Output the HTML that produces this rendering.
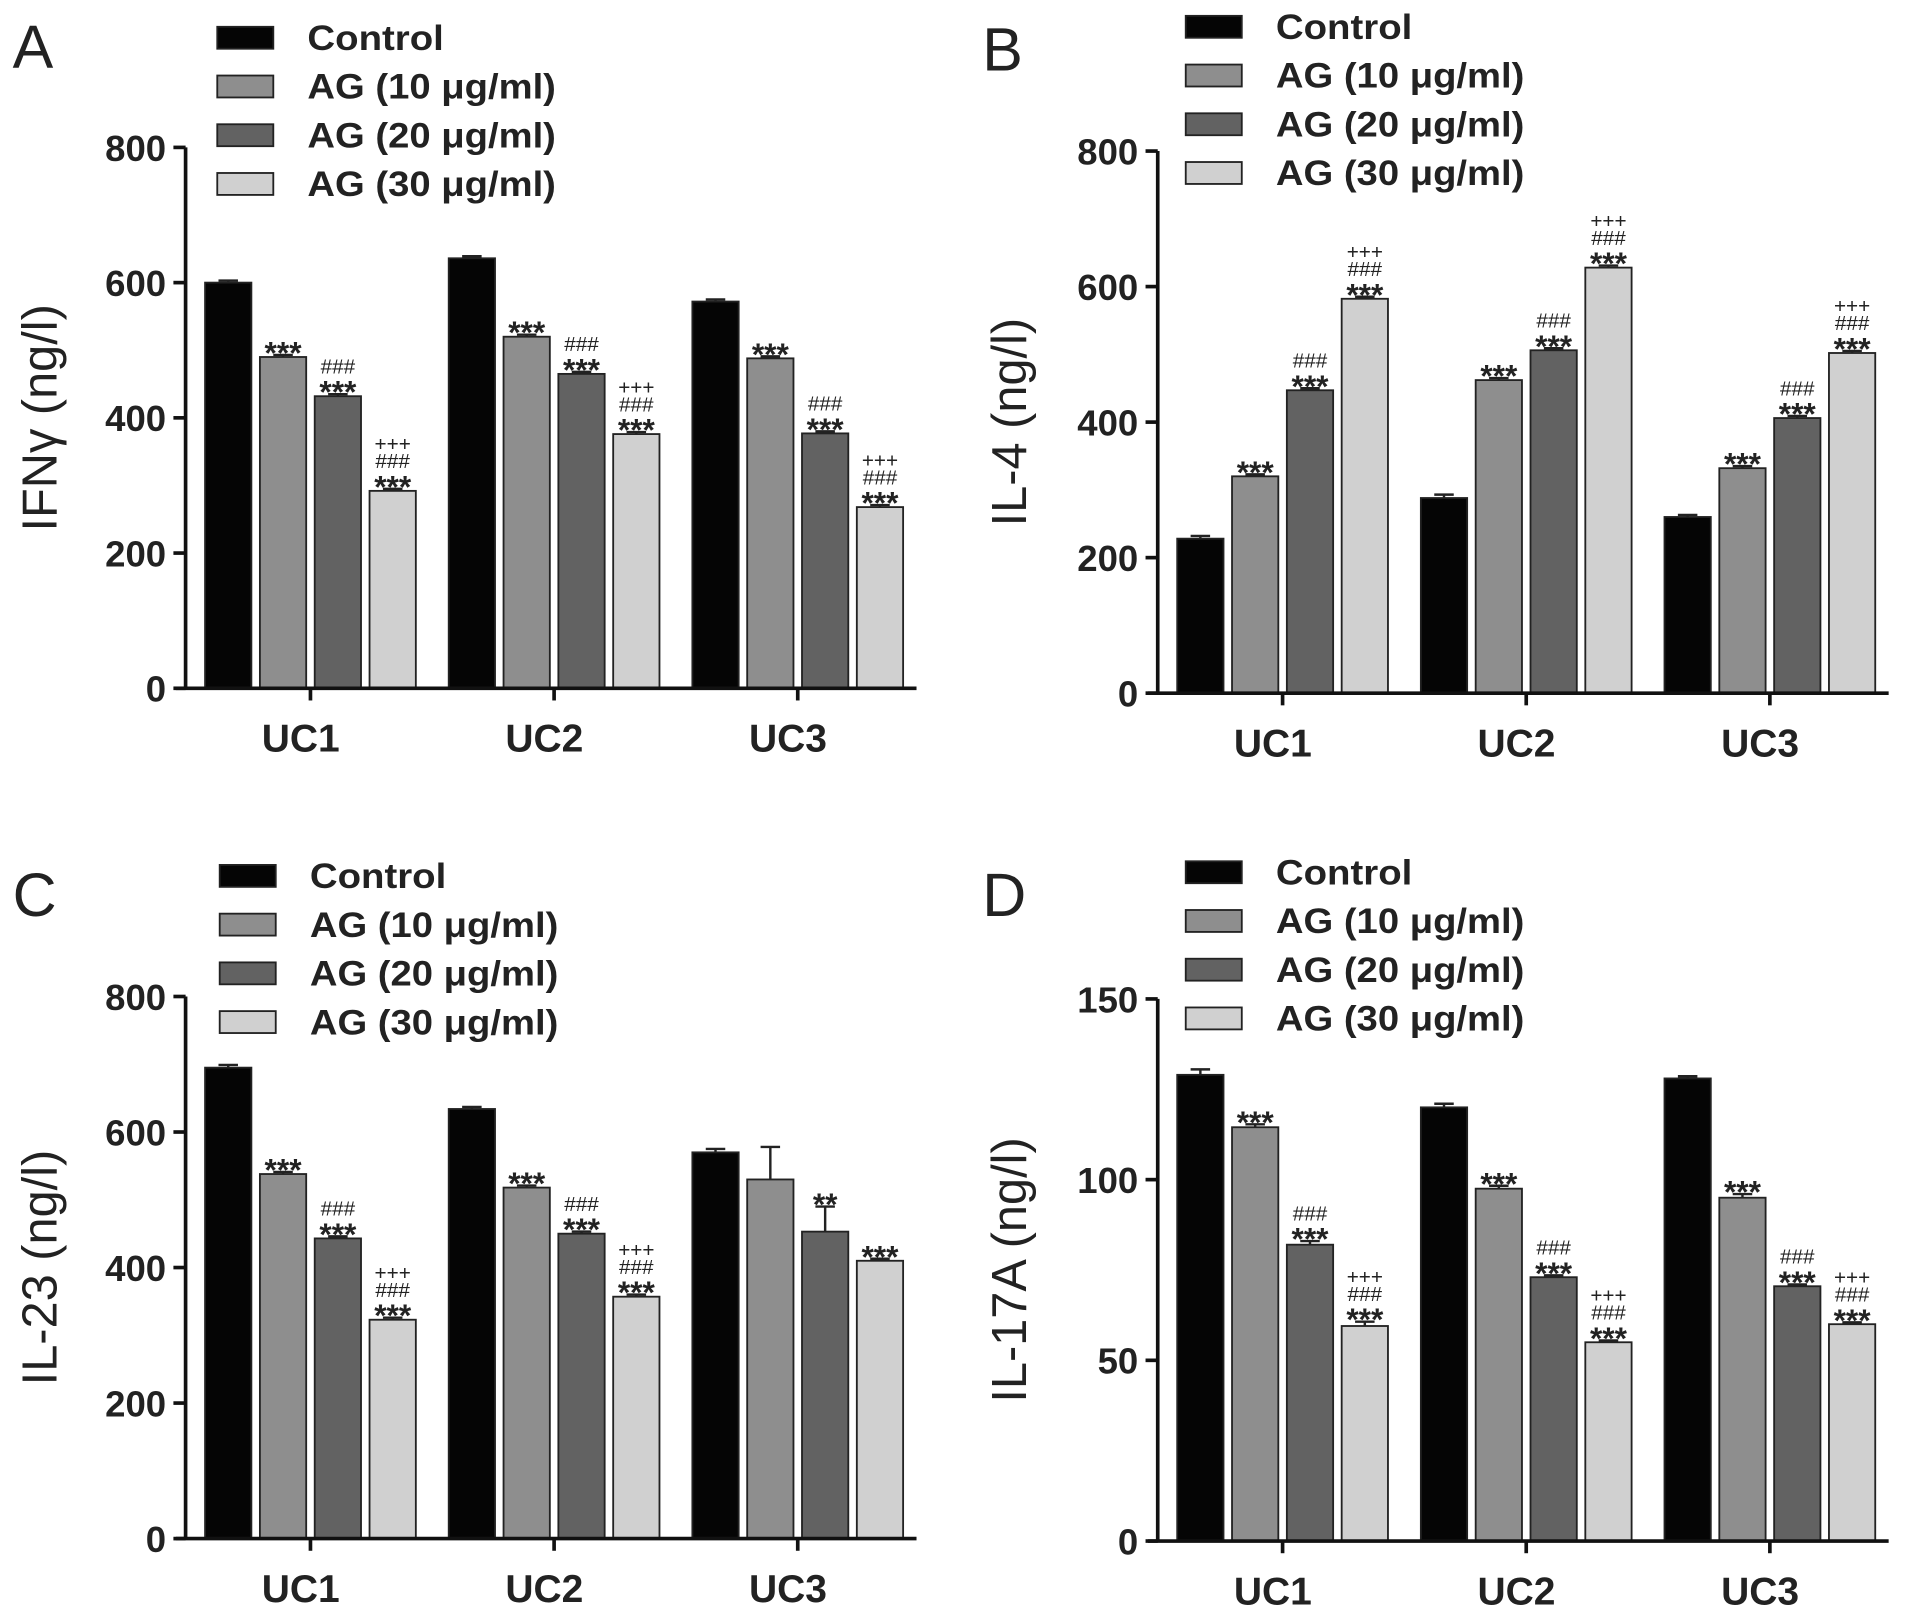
<!DOCTYPE html>
<html><head><meta charset="utf-8"><style>
html,body{margin:0;padding:0;background:#fff;}
svg{display:block;}
text{font-family:"Liberation Sans",Arial,sans-serif;}
</style></head>
<body>
<svg id="fig" width="1911" height="1619" viewBox="0 0 1568 1329" xmlns="http://www.w3.org/2000/svg"></svg>
<script>
const categories = ["UC1","UC2","UC3"];
const seriesNames = ["Control","AG (10 μg/ml)","AG (20 μg/ml)","AG (30 μg/ml)"];
const seriesColors = ["#050505","#8e8e8e","#626262","#d0d0d0"];
// Panel A IFNγ
const aValues = [[600,636,572],[490,520,488],[432,465,377],[292,376,268]];
const aErrors = [[3,3,3],[3,3,3],[3,3,3],[3,3,3]];
const aTicks = [0,200,400,600,800];
const aNotes = [["","",""],["***","***","***"],["###|***","###|***","###|***"],["+++|###|***","+++|###|***","+++|###|***"]];
// Panel B IL-4
const bValues = [[228,288,260],[320,462,332],[447,506,406],[582,628,502]];
const bErrors = [[4,5,3],[3,3,3],[3,3,3],[3,3,3]];
const bTicks = [0,200,400,600,800];
const bNotes = [["","",""],["***","***","***"],["###|***","###|***","###|***"],["+++|###|***","+++|###|***","+++|###|***"]];
// Panel C IL-23
const cValues = [[695,634,570],[538,518,530],[443,450,453],[323,357,410]];
const cErrors = [[4,3,5],[3,3,48],[3,3,37],[3,3,3]];
const cTicks = [0,200,400,600,800];
const cNotes = [["","",""],["***","***",""],["###|***","###|***","**"],["+++|###|***","+++|###|***","***"]];
// Panel D IL-17A
const dValues = [[129,120,128],[114.5,97.5,95],[82,73,70.5],[59.5,55,60]];
const dErrors = [[1.5,1,0.6],[0.8,0.8,1],[1,0.5,0.5],[1.2,0.5,0.5]];
const dTicks = [0,50,100,150];
const dNotes = [["","",""],["***","***","***"],["###|***","###|***","###|***"],["+++|###|***","+++|###|***","+++|###|***"]];

const NS="http://www.w3.org/2000/svg";
const svg=document.getElementById('fig');
function mk(tag,attrs,parent){const e=document.createElementNS(NS,tag);for(const k in attrs)e.setAttribute(k,attrs[k]);(parent||svg).appendChild(e);return e;}

function panel(cfg){
  const g=mk('g',{});
  
  
  const ymax=cfg.ticks[cfg.ticks.length-1];
  const y=v=>cfg.y0-(v/ymax)*(cfg.y0-cfg.ytop);
  const bw=38, step=45, gstep=200;
  const xBar=(ci,si)=>cfg.x0+16+ci*gstep+si*step;
  const L=mk('text',{x:cfg.lx,y:cfg.ly,'font-size':50,fill:'#222'},g);L.textContent=cfg.letter;
  
  
  seriesNames.forEach((n,i)=>{
    const ly=cfg.legY+i*40;
    const r=mk('rect',{x:cfg.legX,y:ly-9,width:46,height:18,fill:seriesColors[i],stroke:'#222','stroke-width':1.5},g);
    
    
    const t=mk('text',{x:cfg.legX+74,y:ly+10,'font-size':29,'font-weight':'bold',fill:'#222',textLength:n.length>8?204:112,lengthAdjust:'spacingAndGlyphs'},g);t.textContent=n;
    
    
  });
  for(let si=0;si<4;si++)for(let ci=0;ci<3;ci++){
    const v=cfg.values[si][ci],e=cfg.errors[si][ci];
    const x=xBar(ci,si),yt=y(v);
    const r=mk('rect',{x:x,y:yt,width:bw,height:cfg.y0-yt,fill:seriesColors[si],stroke:'#222','stroke-width':1.5},g);
    
    
    const ye=y(v+e),cx=x+bw/2;
    mk('line',{x1:cx,x2:cx,y1:yt,y2:ye,stroke:'#222','stroke-width':2},g);
    mk('line',{x1:cx-8,x2:cx+8,y1:ye,y2:ye,stroke:'#222','stroke-width':2},g);
    const note=cfg.notes[si][ci];
    if(note){
      const parts=note.split('|').reverse();
      let cy=ye-2;
      parts.forEach(p=>{
        const isStar=p.indexOf('*')>=0;
        const t=mk('text',{x:cx,y:cy+(isStar?9:0),'text-anchor':'middle','font-size':isStar?26:17,'font-weight':isStar?'bold':'normal',fill:'#222'},g);
        t.textContent=p;
        
        
        cy-=isStar?15:14;
      });
    }
  }
  const ya=mk('line',{x1:cfg.x0,x2:cfg.x0,y1:cfg.ytop,y2:cfg.y0,stroke:'#111','stroke-width':3},g);
  
  
  const xa=mk('line',{x1:cfg.x0-8,x2:cfg.x0+600,y1:cfg.y0,y2:cfg.y0,stroke:'#111','stroke-width':3},g);
  
  
  cfg.ticks.forEach(tv=>{
    const ty=y(tv);
    mk('line',{x1:cfg.x0-10,x2:cfg.x0,y1:ty,y2:ty,stroke:'#111','stroke-width':3},g);
    const t=mk('text',{x:cfg.x0-16,y:ty+11,'text-anchor':'end','font-size':30,'font-weight':'bold',fill:'#222'},g);
    t.textContent=tv;
    
    
  });
  categories.forEach((c,ci)=>{
    const cx=(xBar(ci,0)+xBar(ci,3)+bw)/2;
    mk('line',{x1:cx,x2:cx,y1:cfg.y0,y2:cfg.y0+10,stroke:'#111','stroke-width':3},g);
    const t=mk('text',{x:cx-8,y:cfg.y0+52,'text-anchor':'middle','font-size':32,'font-weight':'bold',fill:'#222'},g);
    t.textContent=c;
    
    
  });
  const cyT=(cfg.y0+cfg.ytop)/2;
  const yt=mk('text',{x:cfg.titleX,y:cyT,'text-anchor':'middle','font-size':40,fill:'#222',transform:`rotate(-90 ${cfg.titleX} ${cyT})`},g);
  yt.textContent=cfg.title;
  
  
}
panel({letter:'A',lx:10,ly:56,legX:178,legY:31,x0:152,y0:565,ytop:121,ticks:aTicks,values:aValues,errors:aErrors,notes:aNotes,title:'IFNγ (ng/l)',titleX:46});
panel({letter:'B',lx:806,ly:58,legX:973,legY:22,x0:950,y0:569,ytop:124,ticks:bTicks,values:bValues,errors:bErrors,notes:bNotes,title:'IL-4 (ng/l)',titleX:842});
panel({letter:'C',lx:10,ly:752,legX:180,legY:719,x0:152,y0:1263,ytop:818,ticks:cTicks,values:cValues,errors:cErrors,notes:cNotes,title:'IL-23 (ng/l)',titleX:46});
panel({letter:'D',lx:806,ly:752,legX:973,legY:716,x0:950,y0:1265,ytop:820,ticks:dTicks,values:dValues,errors:dErrors,notes:dNotes,title:'IL-17A (ng/l)',titleX:842});
</script>
</body></html>
